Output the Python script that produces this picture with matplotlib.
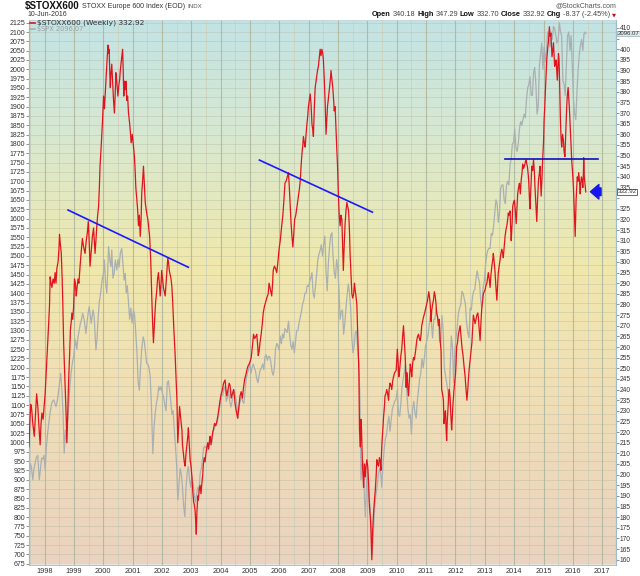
"""$STOXX600 weekly with $SPX overlay, StockCharts style."""
import matplotlib
matplotlib.use("Agg")
import matplotlib.pyplot as plt
import numpy as np
from matplotlib.colors import LinearSegmentedColormap

plt.rcParams["font.family"] = ["Liberation Sans", "DejaVu Sans"]

W, H = 640, 576

# ---- data (decimal years) ----
stoxx_t = [
    1997.47, 1997.50, 1997.53, 1997.56, 1997.60, 1997.65, 1997.69, 1997.73, 1997.77, 1997.82,
    1997.85, 1997.88, 1997.91, 1997.95, 1997.99, 1998.02, 1998.05, 1998.08, 1998.11, 1998.14,
    1998.17, 1998.19, 1998.22, 1998.25, 1998.29, 1998.33, 1998.36, 1998.39, 1998.42, 1998.46,
    1998.49, 1998.51, 1998.54, 1998.57, 1998.60, 1998.62, 1998.65, 1998.68, 1998.71, 1998.74,
    1998.76, 1998.79, 1998.82, 1998.85, 1998.88, 1998.91, 1998.93, 1998.96, 1998.99, 1999.02,
    1999.05, 1999.08, 1999.10, 1999.14, 1999.17, 1999.21, 1999.25, 1999.29, 1999.33, 1999.38,
    1999.42, 1999.46, 1999.49, 1999.52, 1999.55, 1999.59, 1999.63, 1999.67, 1999.70, 1999.72,
    1999.75, 1999.78, 1999.81, 1999.84, 1999.87, 1999.89, 1999.92, 1999.95, 1999.97, 2000.01,
    2000.04, 2000.07, 2000.10, 2000.13, 2000.16, 2000.18, 2000.20, 2000.22, 2000.24, 2000.26,
    2000.29, 2000.32, 2000.35, 2000.38, 2000.41, 2000.43, 2000.46, 2000.50, 2000.53, 2000.56,
    2000.58, 2000.62, 2000.66, 2000.68, 2000.70, 2000.72, 2000.75, 2000.78, 2000.80, 2000.83,
    2000.86, 2000.90, 2000.93, 2000.95, 2000.99, 2001.03, 2001.06, 2001.09, 2001.11, 2001.14,
    2001.17, 2001.20, 2001.23, 2001.26, 2001.29, 2001.31, 2001.34, 2001.37, 2001.40, 2001.43,
    2001.46, 2001.49, 2001.52, 2001.55, 2001.58, 2001.60, 2001.62, 2001.65, 2001.68, 2001.71,
    2001.74, 2001.77, 2001.79, 2001.82, 2001.85, 2001.88, 2001.91, 2001.94, 2001.97, 2001.99,
    2002.02, 2002.05, 2002.08, 2002.11, 2002.14, 2002.17, 2002.20, 2002.23, 2002.25, 2002.28,
    2002.31, 2002.34, 2002.37, 2002.40, 2002.43, 2002.45, 2002.48, 2002.51, 2002.54, 2002.57,
    2002.60, 2002.62, 2002.65, 2002.68, 2002.70, 2002.73, 2002.76, 2002.79, 2002.82, 2002.85,
    2002.88, 2002.90, 2002.93, 2002.96, 2002.99, 2003.02, 2003.05, 2003.08, 2003.10, 2003.13,
    2003.15, 2003.17, 2003.19, 2003.22, 2003.24, 2003.27, 2003.30, 2003.33, 2003.36, 2003.39,
    2003.41, 2003.44, 2003.47, 2003.50, 2003.53, 2003.56, 2003.59, 2003.62, 2003.64, 2003.67,
    2003.70, 2003.73, 2003.75, 2003.79, 2003.83, 2003.87, 2003.91, 2003.95, 2003.98, 2004.02,
    2004.06, 2004.10, 2004.15, 2004.18, 2004.21, 2004.25, 2004.29, 2004.32, 2004.36, 2004.40,
    2004.44, 2004.47, 2004.49, 2004.53, 2004.58, 2004.62, 2004.66, 2004.70, 2004.74, 2004.78,
    2004.82, 2004.86, 2004.89, 2004.93, 2004.97, 2005.00, 2005.04, 2005.08, 2005.12, 2005.16,
    2005.20, 2005.23, 2005.26, 2005.28, 2005.31, 2005.34, 2005.38, 2005.42, 2005.45, 2005.49,
    2005.53, 2005.57, 2005.62, 2005.65, 2005.68, 2005.71, 2005.74, 2005.77, 2005.79, 2005.83,
    2005.87, 2005.91, 2005.95, 2005.99, 2006.03, 2006.08, 2006.12, 2006.16, 2006.19, 2006.23,
    2006.27, 2006.31, 2006.34, 2006.37, 2006.40, 2006.43, 2006.46, 2006.49, 2006.52, 2006.56,
    2006.60, 2006.64, 2006.68, 2006.71, 2006.74, 2006.77, 2006.80, 2006.82, 2006.85, 2006.88,
    2006.91, 2006.94, 2006.97, 2006.99, 2007.02, 2007.05, 2007.08, 2007.11, 2007.14, 2007.16,
    2007.19, 2007.22, 2007.26, 2007.30, 2007.33, 2007.36, 2007.39, 2007.42, 2007.45, 2007.48,
    2007.50, 2007.53, 2007.56, 2007.59, 2007.62, 2007.64, 2007.68, 2007.71, 2007.74, 2007.76,
    2007.79, 2007.82, 2007.85, 2007.87, 2007.90, 2007.93, 2007.96, 2007.98, 2008.01, 2008.04,
    2008.07, 2008.10, 2008.13, 2008.16, 2008.18, 2008.21, 2008.24, 2008.27, 2008.30, 2008.33,
    2008.36, 2008.39, 2008.41, 2008.44, 2008.47, 2008.50, 2008.53, 2008.56, 2008.58, 2008.61,
    2008.64, 2008.67, 2008.69, 2008.71, 2008.73, 2008.76, 2008.78, 2008.80, 2008.83, 2008.85,
    2008.87, 2008.90, 2008.93, 2008.95, 2008.98, 2009.01, 2009.04, 2009.07, 2009.10, 2009.12,
    2009.15, 2009.18, 2009.21, 2009.23, 2009.27, 2009.30, 2009.32, 2009.35, 2009.38, 2009.41,
    2009.44, 2009.46, 2009.48, 2009.50, 2009.53, 2009.55, 2009.58, 2009.60, 2009.63, 2009.66,
    2009.69, 2009.72, 2009.74, 2009.77, 2009.80, 2009.83, 2009.86, 2009.89, 2009.93, 2009.98,
    2010.02, 2010.05, 2010.07, 2010.09, 2010.11, 2010.14, 2010.17, 2010.20, 2010.23, 2010.26,
    2010.29, 2010.32, 2010.34, 2010.36, 2010.38, 2010.40, 2010.43, 2010.46, 2010.49, 2010.51,
    2010.54, 2010.57, 2010.60, 2010.64, 2010.68, 2010.71, 2010.74, 2010.77, 2010.80, 2010.83,
    2010.85, 2010.88, 2010.91, 2010.95, 2011.00, 2011.02, 2011.05, 2011.07, 2011.09, 2011.12,
    2011.14, 2011.17, 2011.19, 2011.22, 2011.25, 2011.28, 2011.31, 2011.34, 2011.36, 2011.39,
    2011.42, 2011.45, 2011.48, 2011.51, 2011.53, 2011.56, 2011.59, 2011.61, 2011.64, 2011.66,
    2011.68, 2011.70, 2011.72, 2011.75, 2011.77, 2011.79, 2011.82, 2011.84, 2011.87, 2011.89,
    2011.91, 2011.93, 2011.95, 2011.98, 2012.00, 2012.02, 2012.04, 2012.07, 2012.10, 2012.13,
    2012.16, 2012.19, 2012.22, 2012.25, 2012.27, 2012.30, 2012.33, 2012.36, 2012.39, 2012.42,
    2012.44, 2012.47, 2012.50, 2012.53, 2012.56, 2012.59, 2012.61, 2012.64, 2012.67, 2012.70,
    2012.73, 2012.76, 2012.78, 2012.81, 2012.84, 2012.87, 2012.90, 2012.93, 2012.95, 2013.01,
    2013.04, 2013.07, 2013.10, 2013.12, 2013.15, 2013.18, 2013.21, 2013.24, 2013.27, 2013.29,
    2013.32, 2013.35, 2013.38, 2013.41, 2013.44, 2013.46, 2013.49, 2013.52, 2013.55, 2013.58,
    2013.61, 2013.63, 2013.66, 2013.69, 2013.72, 2013.75, 2013.78, 2013.80, 2013.83, 2013.86,
    2013.88, 2013.90, 2013.93, 2013.95, 2013.98, 2014.01, 2014.04, 2014.07, 2014.10, 2014.12,
    2014.15, 2014.18, 2014.21, 2014.24, 2014.27, 2014.29, 2014.32, 2014.35, 2014.38, 2014.41,
    2014.43, 2014.45, 2014.48, 2014.50, 2014.52, 2014.54, 2014.57, 2014.60, 2014.63, 2014.66,
    2014.69, 2014.71, 2014.74, 2014.77, 2014.80, 2014.83, 2014.86, 2014.88, 2014.90, 2014.92,
    2014.95, 2014.97, 2015.00, 2015.02, 2015.04, 2015.06, 2015.09, 2015.11, 2015.14, 2015.17,
    2015.19, 2015.20, 2015.23, 2015.25, 2015.27, 2015.29, 2015.32, 2015.34, 2015.36, 2015.38,
    2015.41, 2015.43, 2015.45, 2015.47, 2015.49, 2015.51, 2015.53, 2015.54, 2015.56, 2015.58,
    2015.60, 2015.62, 2015.65, 2015.68, 2015.70, 2015.73, 2015.76, 2015.79, 2015.81, 2015.84,
    2015.87, 2015.89, 2015.91, 2015.94, 2015.96, 2015.99, 2016.02, 2016.05, 2016.08, 2016.11,
    2016.13, 2016.15, 2016.18, 2016.20, 2016.23, 2016.25, 2016.27, 2016.29, 2016.32, 2016.34,
    2016.36, 2016.37, 2016.39, 2016.42, 2016.44,
]
stoxx_v = [
    213, 225, 233, 231, 224, 218, 228, 238, 232, 220,
    214, 224, 229, 226, 233, 238, 246, 255, 262, 271,
    280, 293, 290, 288, 292, 290, 295, 290, 297, 300,
    306, 313, 308, 304, 292, 282, 262, 250, 238, 226,
    215, 230, 244, 255, 268, 272, 276, 273, 279, 292,
    290, 284, 287, 292, 290, 298, 305, 311, 307, 304,
    310, 314, 319, 310, 298, 305, 312, 316, 309, 304,
    310, 317, 322, 326, 336, 345, 352, 360, 365, 378,
    372, 380, 388, 395, 402, 398, 400, 390, 382, 388,
    393, 384, 376, 370, 380, 389, 385, 378, 383, 386,
    390, 395, 400, 390, 378, 385, 381, 385, 376, 378,
    370, 365, 360, 356, 360, 354, 350, 342, 335, 330,
    325, 317, 322, 312, 320, 332, 338, 345, 336, 328,
    325, 322, 320, 316, 312, 306, 300, 285, 272, 262,
    270, 278, 282, 286, 292, 295, 290, 284, 290, 296,
    292, 288, 286, 284, 290, 296, 302, 299, 296, 294,
    292, 288, 280, 270, 262, 256, 246, 235, 215, 224,
    232, 229, 225, 221, 214, 210, 206, 204, 210, 214,
    218, 222, 214, 207, 204, 199, 192, 187, 186, 183,
    178, 172, 182, 190, 188, 193, 195, 191, 196, 200,
    205, 208, 206, 210, 213, 215, 212, 216, 218, 214,
    217, 220, 221, 224, 223, 225, 228, 232, 235, 238,
    240, 243, 244.5, 240, 237, 240, 243, 242, 236, 238,
    240, 237, 233.5, 230, 226.5, 232, 237, 239, 236, 241,
    245, 247, 249, 251, 252, 253, 255, 260, 266, 264,
    265, 266, 261, 256, 258, 262, 266, 271, 276, 279,
    281, 283, 285, 290, 288, 286, 284, 290, 296, 298,
    297, 295, 300, 306, 310, 317, 322, 330, 337, 338,
    340, 342, 335, 326, 318, 312, 307, 313, 320, 322,
    326, 330, 334, 338, 345, 351, 355, 359, 356, 354,
    360, 365, 369, 373, 376, 379, 374, 365, 362, 359,
    372, 382, 386, 390, 392, 396, 400, 397, 400, 398,
    395, 386, 375, 360, 368, 373, 378, 382, 386, 390,
    386, 382, 376, 371, 373, 362, 352, 346, 332, 322,
    317, 322, 320, 306, 296, 308, 318, 324, 328, 326,
    324, 314, 304, 294, 285, 283, 285, 290, 287, 284,
    280, 266, 256, 248, 221, 213, 226, 221, 205, 200,
    194, 205, 199, 203, 207, 204, 196, 185, 180, 174,
    160, 174, 182, 186, 193, 200, 207, 205, 204, 208,
    206, 202, 210, 216, 222, 227, 232, 237, 238, 240,
    238, 235, 240, 243, 242, 240, 244, 246, 248, 249,
    259, 252, 246, 248, 251, 256, 259, 265, 270, 262,
    255, 241, 248, 246, 240, 237, 244, 252, 249, 246,
    252, 255, 254, 258, 263, 265, 266, 264, 263, 266,
    270, 272, 274, 276, 279, 280, 282, 284, 286, 283,
    280, 272, 277, 280, 282, 286, 284, 280, 276, 274,
    270, 273, 263, 258, 240, 238, 235, 224, 228, 230,
    222, 216, 225, 232, 238, 240, 236, 229, 221, 226,
    232, 236, 240, 244, 247, 252, 260, 262, 266, 268,
    270, 265, 260, 257, 254, 250, 246, 240, 235, 240,
    244.5, 250, 254, 258, 262, 270, 275, 273, 271, 273,
    275, 276, 274, 268, 263, 272, 279, 282, 285, 287,
    289, 290, 293, 295, 292, 288, 294, 298, 301, 304,
    300, 295, 288, 282, 290, 295, 298, 301, 304, 306,
    304, 302, 307, 312, 315, 317, 320, 323, 322, 324,
    316, 310, 318, 326, 328, 329, 324, 318, 326, 332,
    335, 337, 332, 338.5, 342, 346, 344, 345, 347, 348,
    346, 345, 341, 337, 330, 325, 335, 345, 343, 348,
    342, 335, 327, 319, 330, 338.5, 342, 345, 338, 331,
    340, 348, 356, 367, 372, 379, 388, 395, 400, 404,
    408, 410.6, 406, 407.5, 402, 396.5, 400, 403, 397, 392,
    394, 395, 390, 385.5, 392, 398, 395, 389, 378, 365,
    358, 354, 360, 357, 352, 349.5, 362, 373, 378, 382,
    375, 370, 364, 356, 348, 342, 335, 323, 312, 329,
    335, 340, 338, 342, 337, 332, 337, 340, 338, 335,
    342, 349, 340, 336, 332.92,
]

spx_t = [
    1997.47, 1997.51, 1997.55, 1997.60, 1997.64, 1997.68, 1997.72, 1997.77, 1997.82, 1997.86,
    1997.90, 1997.94, 1997.98, 1998.02, 1998.06, 1998.10, 1998.14, 1998.19, 1998.23, 1998.27,
    1998.31, 1998.35, 1998.39, 1998.43, 1998.47, 1998.51, 1998.55, 1998.59, 1998.63, 1998.67,
    1998.71, 1998.75, 1998.79, 1998.83, 1998.87, 1998.91, 1998.95, 1998.99, 1999.05, 1999.10,
    1999.14, 1999.18, 1999.22, 1999.26, 1999.30, 1999.35, 1999.41, 1999.47, 1999.52, 1999.56,
    1999.59, 1999.65, 1999.69, 1999.72, 1999.75, 1999.79, 1999.83, 1999.86, 1999.91, 1999.96,
    2000.01, 2000.04, 2000.08, 2000.12, 2000.15, 2000.18, 2000.22, 2000.26, 2000.29, 2000.33,
    2000.37, 2000.41, 2000.46, 2000.50, 2000.54, 2000.58, 2000.63, 2000.67, 2000.71, 2000.75,
    2000.78, 2000.82, 2000.86, 2000.90, 2000.94, 2000.98, 2001.03, 2001.07, 2001.11, 2001.15,
    2001.19, 2001.23, 2001.27, 2001.31, 2001.36, 2001.40, 2001.44, 2001.48, 2001.52, 2001.56,
    2001.60, 2001.64, 2001.69, 2001.73, 2001.77, 2001.81, 2001.85, 2001.89, 2001.93, 2001.97,
    2002.02, 2002.06, 2002.10, 2002.14, 2002.18, 2002.22, 2002.26, 2002.30, 2002.34, 2002.38,
    2002.42, 2002.46, 2002.50, 2002.54, 2002.58, 2002.62, 2002.66, 2002.70, 2002.74, 2002.78,
    2002.82, 2002.86, 2002.90, 2002.94, 2002.98, 2003.02, 2003.06, 2003.10, 2003.14, 2003.18,
    2003.22, 2003.26, 2003.30, 2003.34, 2003.38, 2003.42, 2003.46, 2003.50, 2003.54, 2003.58,
    2003.62, 2003.66, 2003.70, 2003.74, 2003.78, 2003.82, 2003.86, 2003.90, 2003.94, 2003.98,
    2004.03, 2004.07, 2004.11, 2004.15, 2004.19, 2004.23, 2004.27, 2004.31, 2004.35, 2004.39,
    2004.43, 2004.47, 2004.51, 2004.55, 2004.59, 2004.63, 2004.67, 2004.71, 2004.75, 2004.79,
    2004.83, 2004.87, 2004.91, 2004.95, 2004.99, 2005.03, 2005.07, 2005.11, 2005.15, 2005.19,
    2005.23, 2005.27, 2005.31, 2005.35, 2005.39, 2005.43, 2005.47, 2005.51, 2005.55, 2005.59,
    2005.63, 2005.67, 2005.71, 2005.75, 2005.79, 2005.83, 2005.87, 2005.91, 2005.95, 2005.99,
    2006.03, 2006.07, 2006.11, 2006.15, 2006.19, 2006.23, 2006.27, 2006.31, 2006.35, 2006.39,
    2006.43, 2006.47, 2006.51, 2006.55, 2006.59, 2006.63, 2006.67, 2006.71, 2006.75, 2006.79,
    2006.83, 2006.87, 2006.91, 2006.95, 2006.99, 2007.03, 2007.07, 2007.11, 2007.15, 2007.19,
    2007.23, 2007.27, 2007.31, 2007.35, 2007.39, 2007.43, 2007.47, 2007.51, 2007.55, 2007.59,
    2007.63, 2007.67, 2007.71, 2007.75, 2007.79, 2007.83, 2007.87, 2007.91, 2007.95, 2007.99,
    2008.03, 2008.07, 2008.11, 2008.15, 2008.19, 2008.23, 2008.27, 2008.31, 2008.35, 2008.39,
    2008.43, 2008.47, 2008.51, 2008.55, 2008.59, 2008.63, 2008.67, 2008.71, 2008.75, 2008.78,
    2008.82, 2008.86, 2008.90, 2008.93, 2008.97, 2009.01, 2009.05, 2009.09, 2009.13, 2009.17,
    2009.21, 2009.25, 2009.29, 2009.33, 2009.37, 2009.41, 2009.45, 2009.49, 2009.53, 2009.57,
    2009.61, 2009.65, 2009.69, 2009.73, 2009.77, 2009.81, 2009.85, 2009.89, 2009.93, 2009.97,
    2010.02, 2010.06, 2010.10, 2010.14, 2010.18, 2010.22, 2010.26, 2010.30, 2010.34, 2010.38,
    2010.42, 2010.46, 2010.50, 2010.54, 2010.58, 2010.62, 2010.66, 2010.70, 2010.74, 2010.78,
    2010.82, 2010.86, 2010.90, 2010.94, 2010.98, 2011.02, 2011.06, 2011.10, 2011.14, 2011.18,
    2011.22, 2011.26, 2011.30, 2011.34, 2011.38, 2011.42, 2011.46, 2011.50, 2011.54, 2011.58,
    2011.62, 2011.66, 2011.70, 2011.74, 2011.78, 2011.82, 2011.86, 2011.90, 2011.94, 2011.98,
    2012.02, 2012.06, 2012.10, 2012.14, 2012.18, 2012.22, 2012.26, 2012.30, 2012.34, 2012.38,
    2012.42, 2012.46, 2012.50, 2012.54, 2012.58, 2012.62, 2012.66, 2012.70, 2012.74, 2012.78,
    2012.82, 2012.86, 2012.90, 2012.94, 2012.98, 2013.02, 2013.06, 2013.10, 2013.14, 2013.18,
    2013.22, 2013.26, 2013.30, 2013.34, 2013.38, 2013.42, 2013.46, 2013.50, 2013.54, 2013.58,
    2013.62, 2013.66, 2013.70, 2013.74, 2013.78, 2013.82, 2013.86, 2013.90, 2013.94, 2013.98,
    2014.02, 2014.06, 2014.10, 2014.14, 2014.18, 2014.22, 2014.26, 2014.30, 2014.34, 2014.38,
    2014.42, 2014.46, 2014.50, 2014.54, 2014.58, 2014.62, 2014.66, 2014.70, 2014.74, 2014.78,
    2014.82, 2014.86, 2014.90, 2014.94, 2014.98, 2015.02, 2015.06, 2015.10, 2015.14, 2015.18,
    2015.22, 2015.26, 2015.30, 2015.34, 2015.38, 2015.42, 2015.46, 2015.50, 2015.54, 2015.58,
    2015.62, 2015.66, 2015.70, 2015.74, 2015.78, 2015.82, 2015.86, 2015.90, 2015.94, 2015.98,
    2016.02, 2016.06, 2016.10, 2016.14, 2016.18, 2016.22, 2016.26, 2016.30, 2016.34, 2016.38,
    2016.42, 2016.44,
]
spx_v = [
    890, 944, 935, 900, 930, 944, 960, 965, 900, 930,
    958, 955, 965, 927, 985, 1020, 1050, 1080, 1100, 1110,
    1114, 1105, 1096, 1110, 1133, 1160, 1185, 1140, 1080, 971,
    1033, 1000, 1060, 1110, 1160, 1190, 1215, 1230, 1275, 1250,
    1283, 1300, 1319, 1330, 1346, 1328, 1292, 1337, 1364, 1340,
    1319, 1355, 1337, 1290, 1248, 1280, 1340, 1373, 1400, 1435,
    1455, 1489, 1426, 1400, 1453, 1525, 1490, 1471, 1516, 1440,
    1453, 1489, 1462, 1490, 1470, 1507, 1520, 1480, 1435, 1453,
    1400, 1420, 1373, 1330, 1360, 1320, 1355, 1340, 1290, 1240,
    1160, 1140, 1200, 1250, 1283, 1270, 1240, 1212, 1210, 1200,
    1176, 1100, 970, 1040, 1078, 1105, 1120, 1150, 1140, 1150,
    1130, 1120, 1100, 1085, 1160, 1165, 1140, 1110, 1075, 1085,
    1035, 990, 940, 846, 890, 930, 915, 880, 830, 801,
    880, 920, 935, 900, 880, 910, 890, 860, 840, 860,
    880, 870, 915, 930, 955, 985, 990, 985, 980, 990,
    1000, 1010, 1000, 1030, 1035, 1050, 1045, 1060, 1085, 1100,
    1130, 1125, 1145, 1150, 1110, 1120, 1140, 1110, 1095, 1110,
    1130, 1140, 1120, 1100, 1065, 1100, 1110, 1125, 1110, 1105,
    1135, 1170, 1185, 1195, 1212, 1185, 1200, 1210, 1200, 1190,
    1170, 1160, 1180, 1195, 1200, 1210, 1195, 1230, 1235, 1220,
    1230, 1230, 1215, 1190, 1180, 1200, 1250, 1265, 1260, 1248,
    1285, 1265, 1290, 1280, 1305, 1300, 1295, 1325, 1290, 1260,
    1250, 1270, 1240, 1270, 1300, 1300, 1320, 1335, 1350, 1370,
    1380, 1400, 1400, 1420, 1418, 1430, 1440, 1455, 1400, 1387,
    1420, 1450, 1490, 1505, 1515, 1530, 1500, 1530, 1553, 1460,
    1406, 1480, 1525, 1555, 1562, 1500, 1455, 1440, 1490, 1468,
    1410, 1330, 1350, 1355, 1290, 1320, 1360, 1395, 1425, 1400,
    1360, 1280, 1240, 1260, 1295, 1300, 1250, 1215, 1100, 900,
    940, 950, 850, 800, 890, 930, 850, 830, 770, 700,
    770, 830, 860, 880, 910, 930, 920, 880, 940, 980,
    1010, 1020, 1050, 1070, 1030, 1060, 1090, 1100, 1110, 1115,
    1140, 1075, 1070, 1105, 1150, 1170, 1190, 1210, 1140, 1090,
    1065, 1075, 1022, 1090, 1110, 1080, 1065, 1110, 1140, 1170,
    1185, 1225, 1200, 1225, 1258, 1270, 1285, 1310, 1340, 1320,
    1280, 1330, 1330, 1360, 1340, 1330, 1270, 1270, 1340, 1300,
    1200, 1180, 1160, 1140, 1100, 1200, 1285, 1255, 1160, 1245,
    1280, 1310, 1345, 1360, 1370, 1405, 1400, 1385, 1370, 1320,
    1295, 1280, 1360, 1355, 1390, 1405, 1410, 1440, 1460, 1440,
    1430, 1380, 1360, 1415, 1430, 1470, 1500, 1515, 1520, 1520,
    1560, 1555, 1580, 1615, 1650, 1640, 1590, 1615, 1680, 1690,
    1690, 1650, 1640, 1690, 1700, 1690, 1745, 1760, 1800, 1805,
    1840, 1790, 1780, 1800, 1840, 1860, 1850, 1865, 1880, 1870,
    1920, 1950, 1960, 1980, 1930, 1930, 1990, 2005, 1960, 1880,
    1900, 2010, 2040, 2070, 2000, 2060, 2020, 2050, 2100, 2080,
    2060, 2100, 2080, 2115, 2110, 2090, 2070, 2080, 2125, 2100,
    2090, 1970, 1960, 1930, 2015, 2090, 2100, 2050, 2090, 2010,
    1920, 1880, 1865, 1940, 2000, 2040, 2065, 2080, 2050, 2095,
    2100, 2096.07,
]

# trend lines drawn on the STOXX scale: (year, value) end points
trend1 = ([1998.80, 2002.90], [324.4, 297.5])
trend2 = ([2005.32, 2009.17], [347.9, 323.4])
trend3 = ([2013.69, 2016.85], [348.4, 348.4])
arrow_at = (2016.60, 333.0)

years = list(range(1998, 2018))
left_ticks = list(range(675, 2126, 25))
right_ticks = list(range(160, 411, 5))
right_hidden = {405, 330}  # covered by the last-value tags

LEFT_LIM = (672.8, 2132.2)
RIGHT_LIM = (157.74, 413.76)
X_LIM = (1997.47, 2017.47)


def px(x, y):
    return x / W, 1 - y / H


def text_row(fig, pieces, x, y, align="left", gap=2.5):
    """Lay out (text, kwargs) pieces side by side on one line, in pixels."""
    r = fig.canvas.get_renderer()
    arts = [fig.text(0, 0, s, va="center", **kw) for s, kw in pieces]
    widths = [a.get_window_extent(r).width for a in arts]
    total = sum(widths) + gap * (len(arts) - 1)
    cur = x - total if align == "right" else x
    for a, w in zip(arts, widths):
        a.set_position(px(cur, y))
        cur += w + gap


fig = plt.figure(figsize=(W / 100, H / 100), dpi=100)
ax = fig.add_axes([29 / W, 11.5 / H, 587 / W, 544.5 / H])

# background gradient (peach at bottom -> pale yellow -> teal at top)
grad = LinearSegmentedColormap.from_list("bg", [
    (0.00, (234 / 255, 211 / 255, 192 / 255)),
    (0.30, (240 / 255, 222 / 255, 182 / 255)),
    (0.55, (240 / 255, 232 / 255, 172 / 255)),
    (0.80, (214 / 255, 232 / 255, 210 / 255)),
    (1.00, (194 / 255, 227 / 255, 229 / 255)),
])
ax.imshow(np.linspace(0, 1, 256).reshape(-1, 1), cmap=grad, origin="lower",
          extent=[0, 1, 0, 1], transform=ax.transAxes, aspect="auto", zorder=0)

ax.plot(spx_t, spx_v, color="#a9b0b2", lw=0.9, zorder=2)
ax.set_xlim(*X_LIM)
ax.set_ylim(*LEFT_LIM)

ax.set_xticks(years)
ax.set_xticklabels([str(y) for y in years])
ax.set_xticks([y + 0.5 for y in range(1997, 2017)], minor=True)
ax.set_yticks(left_ticks)
ax.grid(which="major", axis="x", color="#b3bba3", lw=0.8)
ax.grid(which="minor", axis="x", color="#cdd1bb", lw=0.6)
ax.grid(which="major", axis="y", color="#a9b09a", lw=0.5, alpha=0.45)
ax.tick_params(axis="x", which="both", length=0, labelsize=5.3, pad=2.5, labelcolor="#333333")
ax.tick_params(axis="y", length=2, width=0.5, color="#666666", labelsize=5.0, pad=0.6,
               labelcolor="#333333")

ax2 = ax.twinx()
ax2.plot(stoxx_t, stoxx_v, color="#e0141c", lw=0.9, zorder=3)
ax2.set_ylim(*RIGHT_LIM)
ax2.set_yticks(right_ticks)
ax2.set_yticklabels(["" if v in right_hidden else str(v) for v in right_ticks])
ax2.tick_params(axis="y", length=2, width=0.5, color="#666666", labelsize=4.8, pad=0.8,
                labelcolor="#333333")

for seg, c in [(trend1, "#1a1aff"), (trend2, "#1a1aff"), (trend3, "#1010c0")]:
    ax2.plot(seg[0], seg[1], color=c, lw=1.2, zorder=4)

ax2.annotate("", xy=arrow_at, xytext=(arrow_at[0] + 0.36, arrow_at[1]),
             arrowprops=dict(arrowstyle="simple,head_length=0.55,head_width=0.95,tail_width=0.5",
                             color="#1515ee", mutation_scale=11, shrinkA=0, shrinkB=0),
             zorder=5)

for a in (ax, ax2):
    for side in ("left", "right"):
        a.spines[side].set_color("#9fbccc")
        a.spines[side].set_linestyle((0, (1, 1)))
        a.spines[side].set_linewidth(0.8)
    a.spines["top"].set_color("#c8d8dc")
    a.spines["bottom"].set_color("#b0c4cc")
    a.spines["top"].set_linewidth(0.5)
    a.spines["bottom"].set_linewidth(0.6)

# last value tags on the right axis
ax.annotate(f"{spx_v[-1]:.2f}", xy=(1.0, spx_v[-1]), xycoords=("axes fraction", "data"),
            xytext=(1.2, 0), textcoords="offset points", va="center", ha="left",
            fontsize=4.3, color="#333333", annotation_clip=False, zorder=10,
            bbox=dict(boxstyle="square,pad=0.08", fc="#dbe8ec", ec="#9ab0b8", lw=0.5))
ax2.annotate(f"{stoxx_v[-1]:.2f}", xy=(1.0, stoxx_v[-1]), xycoords=("axes fraction", "data"),
             xytext=(1.2, 0), textcoords="offset points", va="center", ha="left",
             fontsize=4.5, color="#333333", annotation_clip=False, zorder=10,
             bbox=dict(boxstyle="square,pad=0.08", fc="white", ec="#e0141c", lw=0.6))

# legend inside the plot
fig.add_artist(plt.Line2D([29.5 / W, 35 / W], [1 - 22.7 / H] * 2, color="#e0141c", lw=1.2))
fig.add_artist(plt.Line2D([29.5 / W, 35 / W], [1 - 29.3 / H] * 2, color="#a9b0b2", lw=1.2))
fig.text(*px(37, 22.7), f"$STOXX600 (Weekly) {stoxx_v[-1]:.2f}", fontsize=5.4,
         family="DejaVu Sans", color="#333333", va="center")
fig.text(*px(37, 29.3), f"$SPX {spx_v[-1]:.2f}", fontsize=4.8, family="DejaVu Sans",
         color="#9aa2a4", va="center")

# header
text_row(fig, [("$STOXX600", dict(fontsize=7.0, fontweight="bold", color="#111111")),
               ("STOXX Europe 600 Index (EOD)", dict(fontsize=5.0, color="#333333")),
               ("INDX", dict(fontsize=4.4, color="#555555"))], 25, 6.5)
fig.text(*px(27, 14.5), "10-Jun-2016", fontsize=5.0, color="#333333", va="center")
fig.text(*px(616, 5.5), "@StockCharts.com", fontsize=5.0, color="#555555", va="center",
         ha="right")
bold = dict(fontsize=5.3, fontweight="bold", color="#111111")
norm = dict(fontsize=5.3, color="#444444")
text_row(fig, [("Open", bold), ("340.18", norm), ("High", bold), ("347.29", norm),
               ("Low", bold), ("332.70", norm), ("Close", bold), ("332.92", norm),
               ("Chg", bold), ("-8.37 (-2.45%)", norm),
               ("\u25bc", dict(fontsize=3.8, color="#cc1111", family="DejaVu Sans"))],
         616, 14.5, align="right", gap=1.8)

fig.savefig("out.png", dpi=100)
